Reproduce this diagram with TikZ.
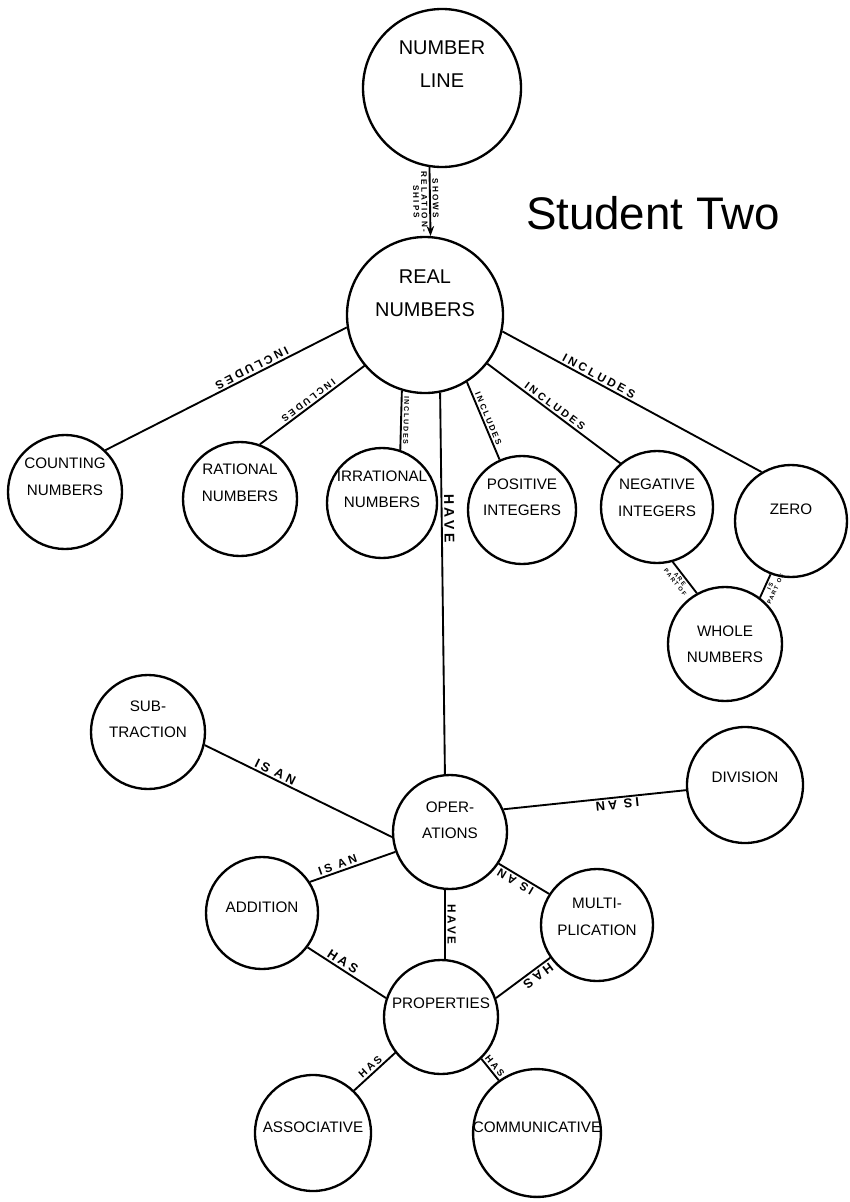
\documentclass[tikz,border=0pt]{standalone}
\usepackage{fontspec}
\setmainfont{Liberation Sans}
\newfontfamily\lblfont[LetterSpace=25]{Liberation Sans}
\usetikzlibrary{arrows.meta, positioning}
\newcommand{\circtext}[2]{\raisebox{#1}[0pt][0pt]{\renewcommand{\arraystretch}{1.5}\begin{tabular}{@{}c@{}}#2\end{tabular}}}

\begin{document}
\begin{tikzpicture}[
    x=0.03cm, y=-0.03cm,
    concept/.style={circle, draw, line width=2pt, minimum size=#1*0.03cm,
                    inner sep=0pt, font=\fontsize{13}{15}\selectfont},
    concept/.default=114,
    bigconcept/.style={concept=#1, font=\fontsize{17}{19}\selectfont},
    conn/.style={line width=1.6pt},
    lbl/.style={font=\lblfont\bfseries\fontsize{#1}{#1}\selectfont, sloped, inner sep=1.5pt},
    lbl/.default=10,
]
    \useasboundingbox (0,0) rectangle (850,1202);

    % Top: number line, real numbers, title
    \node[bigconcept=158] (numline) at (442,88) {\circtext{16pt}{NUMBER\\LINE}};
    \node[bigconcept=156] (real) at (425,315) {\circtext{14pt}{REAL\\NUMBERS}};
    \node[font=\fontsize{39}{44}\selectfont] (title) at (653,213) {Student Two};

    % Row 2: kinds of numbers
    \node[concept] (counting) at (65,492) {\circtext{10pt}{COUNTING\\NUMBERS}};
    \node[concept] (rational) at (240,499) {\circtext{11pt}{RATIONAL\\NUMBERS}};
    \node[concept=110] (irrational) at (382,503) {\circtext{9pt}{IRRATIONAL\\NUMBERS}};
    \node[concept=108] (positive) at (522,510) {\circtext{8pt}{POSITIVE\\INTEGERS}};
    \node[concept=112] (negative) at (657,507) {\circtext{5pt}{NEGATIVE\\INTEGERS}};
    \node[concept=112] (zero) at (791,521) {\circtext{7pt}{ZERO}};
    \node[concept] (whole) at (725,644) {\circtext{-3pt}{WHOLE\\NUMBERS}};

    % Row 3: operations
    \node[concept] (subtraction) at (148,732) {\circtext{8pt}{SUB-\\TRACTION}};
    \node[concept] (operations) at (450,832) {\circtext{7pt}{OPER-\\ATIONS}};
    \node[concept=116] (division) at (745,785) {\circtext{4pt}{DIVISION}};
    \node[concept=112] (addition) at (262,913) {\circtext{2pt}{ADDITION}};
    \node[concept=112] (multiplication) at (597,925) {\circtext{4pt}{MULTI-\\PLICATION}};

    % Row 4: properties
    \node[concept] (properties) at (441,1017) {\circtext{9pt}{PROPERTIES}};
    \node[concept=116] (associative) at (313,1133) {\circtext{2pt}{ASSOCIATIVE}};
    \node[concept] (communicative) at (537,1133) {\circtext{2pt}{COMMUNICATIVE}};

    % Connections
    \draw[conn, -{Stealth[length=3mm]}] (numline.261) --
        node[lbl=7, allow upside down, above, pos=.45] {SHOWS}
        node[lbl=7, allow upside down, below, pos=.5, align=center] {RELATION-\\SHIPS} (real.86);
    \draw[conn] (real.189) -- node[lbl, below, rotate=180, pos=.38] {INCLUDES} (counting.46);
    \draw[conn] (real.220) -- node[lbl=8, below, rotate=180, pos=.5] {INCLUDES} (rational.70);
    \draw[conn] (real.253) -- node[lbl=6, allow upside down, above, pos=.5] {INCLUDES} (irrational.71);
    \draw[conn] (real.302) -- node[lbl=7, above, pos=.5] {INCLUDES} (positive.114);
    \draw[conn] (real.322) -- node[lbl=9, above, pos=.48] {INCLUDES} (negative.130);
    \draw[conn] (real.348) -- node[lbl=10, above, pos=.36] {INCLUDES} (zero.121);
    \draw[conn] (real.281) -- node[lbl=12, allow upside down, above, pos=.33] {HAVE} (operations.95);
    \draw[conn] (negative.286) -- node[lbl=5, below, pos=.45, align=center] {ARE\\PART OF} (whole.119);
    \draw[conn] (zero.249) -- node[lbl=5, below, pos=.45, align=center] {IS\\PART OF} (whole.53);

    \draw[conn] (subtraction.347) -- node[lbl=11, above, pos=.36] {IS\enspace AN} (operations.185);
    \draw[conn] (addition.33) -- node[lbl, above, pos=.35] {IS AN} (operations.200);
    \draw[conn] (operations.23) -- node[lbl=11, above, rotate=180, pos=.62] {IS\enspace AN} (division.185);
    \draw[conn] (operations.327) -- node[lbl, above, rotate=180, pos=.4] {IS AN} (multiplication.147);
    \draw[conn] (operations.265) -- node[lbl=10, allow upside down, above, pos=.5] {HAVE} (properties.86);

    \draw[conn] (addition.323) -- node[lbl=11, above, pos=.4] {HAS} (properties.161);
    \draw[conn] (multiplication.215) -- node[lbl=11, above, rotate=180, pos=.3] {HAS} (properties.19);
    \draw[conn] (properties.218) -- node[lbl=9, above, pos=.5] {HAS} (associative.46);
    \draw[conn] (properties.314) -- node[lbl=8, above, pos=.5] {HAS} (communicative.126);
\end{tikzpicture}
\end{document}
